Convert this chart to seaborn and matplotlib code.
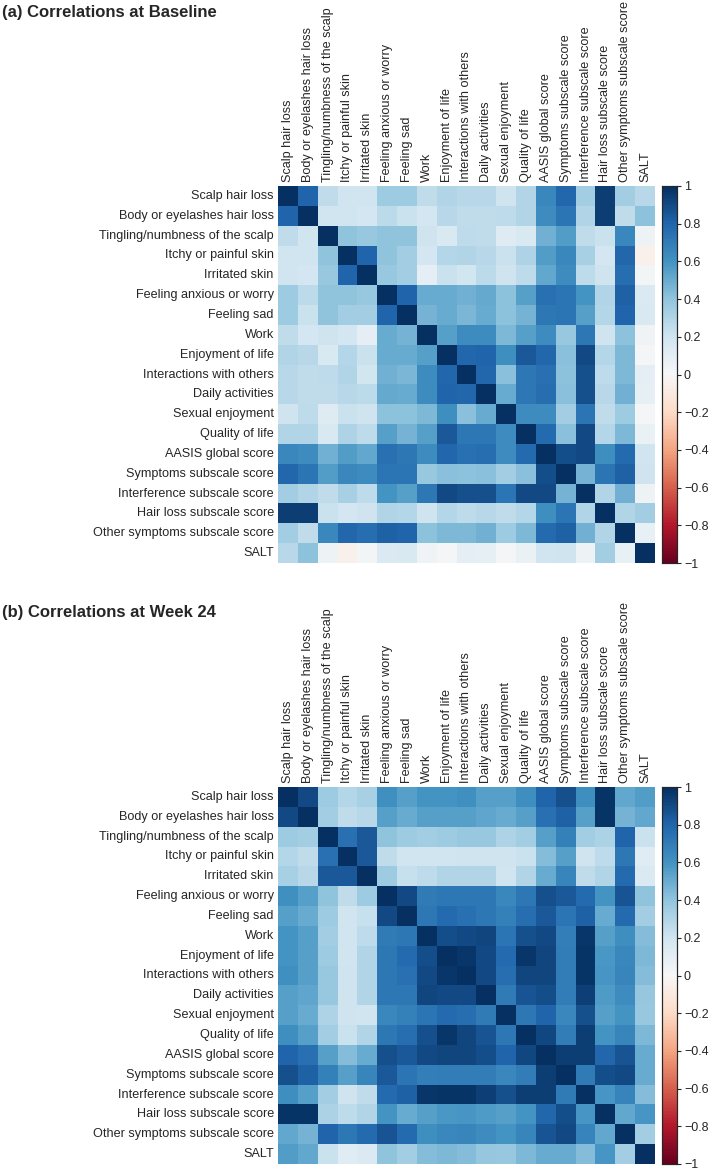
import numpy as np
import pandas as pd
import seaborn as sns
import matplotlib.pyplot as plt

labels = [
    "Scalp hair loss", "Body or eyelashes hair loss", "Tingling/numbness of the scalp",
    "Itchy or painful skin", "Irritated skin", "Feeling anxious or worry", "Feeling sad",
    "Work", "Enjoyment of life", "Interactions with others", "Daily activities",
    "Sexual enjoyment", "Quality of life", "AASIS global score", "Symptoms subscale score",
    "Interference subscale score", "Hair loss subscale score",
    "Other symptoms subscale score", "SALT",
]

# lower triangles (row i -> correlations with items 0..i-1)
baseline_lower = [
    [],
    [0.80],
    [0.25, 0.20],
    [0.20, 0.20, 0.40],
    [0.20, 0.18, 0.38, 0.80],
    [0.36, 0.27, 0.40, 0.40, 0.38],
    [0.36, 0.22, 0.40, 0.35, 0.35, 0.80],
    [0.25, 0.18, 0.21, 0.18, 0.10, 0.50, 0.47],
    [0.30, 0.28, 0.16, 0.29, 0.22, 0.50, 0.50, 0.55],
    [0.28, 0.25, 0.26, 0.30, 0.19, 0.48, 0.46, 0.63, 0.79],
    [0.28, 0.25, 0.25, 0.28, 0.27, 0.51, 0.50, 0.63, 0.80, 0.79],
    [0.21, 0.26, 0.13, 0.22, 0.21, 0.41, 0.41, 0.45, 0.62, 0.42, 0.50],
    [0.30, 0.30, 0.16, 0.31, 0.26, 0.55, 0.47, 0.55, 0.85, 0.72, 0.72, 0.63],
    [0.65, 0.63, 0.48, 0.56, 0.52, 0.75, 0.72, 0.63, 0.79, 0.75, 0.76, 0.63, 0.78],
    [0.79, 0.73, 0.56, 0.65, 0.63, 0.73, 0.73, 0.38, 0.42, 0.41, 0.42, 0.35, 0.42, 0.89],
    [0.35, 0.30, 0.25, 0.33, 0.26, 0.60, 0.55, 0.72, 0.90, 0.88, 0.88, 0.73, 0.90, 0.90, 0.47],
    [0.95, 0.95, 0.22, 0.18, 0.21, 0.30, 0.29, 0.21, 0.29, 0.26, 0.28, 0.25, 0.29, 0.62, 0.73, 0.30],
    [0.35, 0.25, 0.65, 0.79, 0.76, 0.82, 0.80, 0.41, 0.45, 0.45, 0.48, 0.36, 0.45, 0.78, 0.82, 0.48, 0.30],
    [0.28, 0.41, 0.05, -0.05, 0.03, 0.15, 0.16, 0.04, 0.02, 0.10, 0.09, 0.02, 0.07, 0.20, 0.21, 0.05, 0.35, 0.08],
]

week24_lower = [
    [],
    [0.90],
    [0.36, 0.35],
    [0.29, 0.25, 0.75],
    [0.33, 0.28, 0.85, 0.85],
    [0.61, 0.55, 0.40, 0.25, 0.36],
    [0.55, 0.50, 0.36, 0.20, 0.23, 0.90],
    [0.60, 0.55, 0.35, 0.20, 0.26, 0.71, 0.72],
    [0.60, 0.55, 0.36, 0.20, 0.30, 0.72, 0.78, 0.89],
    [0.61, 0.55, 0.38, 0.21, 0.30, 0.72, 0.75, 0.90, 0.97],
    [0.55, 0.53, 0.38, 0.21, 0.30, 0.72, 0.72, 0.92, 0.90, 0.90],
    [0.55, 0.50, 0.31, 0.21, 0.20, 0.65, 0.68, 0.73, 0.78, 0.76, 0.71],
    [0.62, 0.55, 0.35, 0.22, 0.30, 0.72, 0.76, 0.88, 0.97, 0.92, 0.86, 0.72],
    [0.80, 0.75, 0.55, 0.43, 0.50, 0.88, 0.85, 0.90, 0.92, 0.92, 0.89, 0.80, 0.91],
    [0.88, 0.82, 0.68, 0.55, 0.66, 0.85, 0.73, 0.69, 0.70, 0.70, 0.70, 0.65, 0.70, 0.95],
    [0.62, 0.55, 0.35, 0.21, 0.25, 0.78, 0.82, 0.97, 0.98, 0.98, 0.94, 0.88, 0.95, 0.95, 0.71],
    [0.98, 0.98, 0.32, 0.26, 0.30, 0.60, 0.50, 0.55, 0.58, 0.59, 0.57, 0.55, 0.60, 0.79, 0.89, 0.59],
    [0.52, 0.47, 0.80, 0.72, 0.78, 0.86, 0.78, 0.62, 0.65, 0.66, 0.63, 0.60, 0.66, 0.86, 0.90, 0.67, 0.52],
    [0.56, 0.52, 0.22, 0.12, 0.15, 0.40, 0.35, 0.43, 0.45, 0.43, 0.39, 0.38, 0.45, 0.50, 0.50, 0.43, 0.59, 0.35],
]

cbar_ticks = [1, 0.8, 0.6, 0.4, 0.2, 0, -0.2, -0.4, -0.6, -0.8, -1]


def full_matrix(lower):
    """Mirror a lower triangle into a symmetric correlation matrix."""
    n = len(lower)
    m = np.eye(n)
    for i, row in enumerate(lower):
        for j, v in enumerate(row):
            m[i, j] = v
            m[j, i] = v
    return pd.DataFrame(m, index=labels, columns=labels)


sns.set_style("white")
plt.rcParams['font.family'] = ['Liberation Sans', 'DejaVu Sans']

W, H = 709, 1171
fig = plt.figure(figsize=(W / 100, H / 100), dpi=100)


def draw_panel(lower, title, top_px, title_px):
    left_px, right_px = 278, 655
    bottom_px = top_px + 377
    ax = fig.add_axes([left_px / W, 1 - bottom_px / H, (right_px - left_px) / W, 377 / H])
    cax = fig.add_axes([662 / W, 1 - bottom_px / H, 15 / W, 377 / H])
    sns.heatmap(full_matrix(lower), ax=ax, cbar_ax=cax, cmap="RdBu", vmin=-1, vmax=1,
                xticklabels=True, yticklabels=True)
    ax.xaxis.tick_top()
    ax.tick_params(axis='both', length=0, labelsize=9.1, pad=3)
    plt.setp(ax.get_xticklabels(), rotation=90, ha='center', va='bottom')
    plt.setp(ax.get_yticklabels(), rotation=0)
    cax.set_yticks(cbar_ticks)
    cax.set_yticklabels(["1", "0.8", "0.6", "0.4", "0.2", "0", "\u22120.2", "\u22120.4",
                         "\u22120.6", "\u22120.8", "\u22121"])
    cax.tick_params(length=3, width=0.8, labelsize=9, pad=2)
    for s in cax.spines.values():
        s.set_visible(True)
        s.set_linewidth(0.8)
    fig.text(2 / W, 1 - title_px / H, title, fontsize=12, fontweight='bold',
             family=['Liberation Sans Narrow', 'Liberation Sans'], va='center', ha='left')


draw_panel(baseline_lower, "(a) Correlations at Baseline", 186, 12)
draw_panel(week24_lower, "(b) Correlations at Week 24", 787, 612)

fig.savefig("out.png", dpi=100)
